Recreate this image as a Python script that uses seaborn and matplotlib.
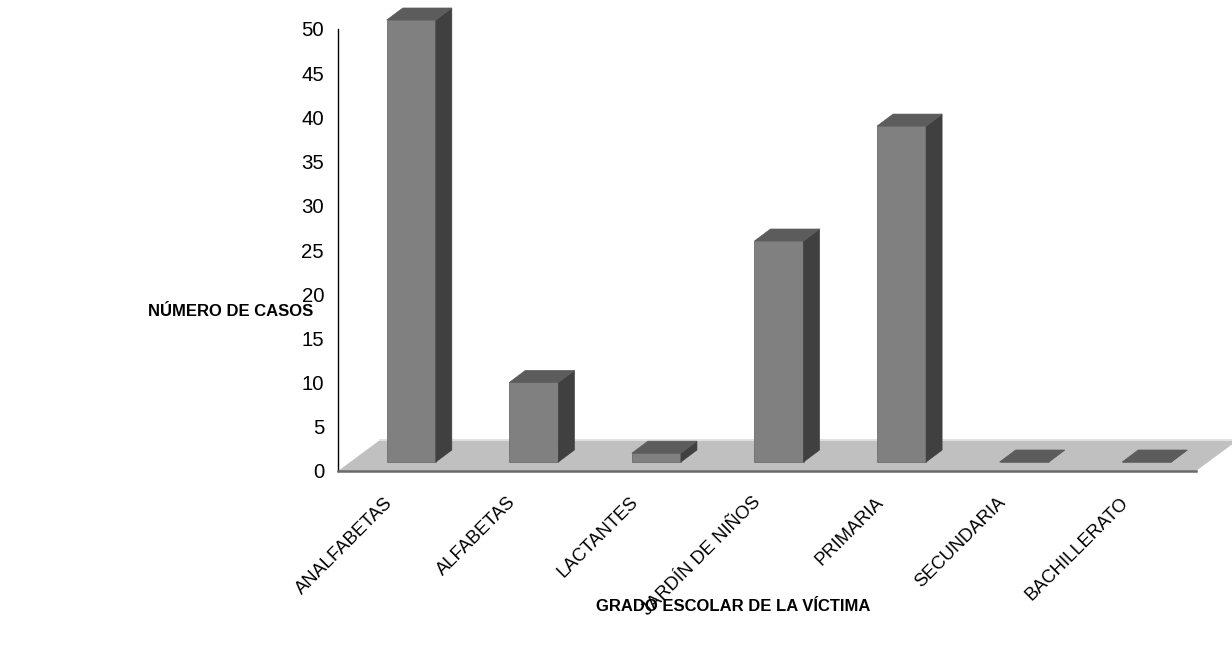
import numpy as np
import pandas as pd
import matplotlib
matplotlib.use("Agg")
import matplotlib.pyplot as plt
from matplotlib.patches import Polygon
from matplotlib.transforms import IdentityTransform, Affine2D, offset_copy
import seaborn as sns

# Datos
grados = ['ANALFABETAS', 'ALFABETAS', 'LACTANTES', 'JARDÍN DE NIÑOS',
          'PRIMARIA', 'SECUNDARIA', 'BACHILLERATO']
casos = [50, 9, 1, 25, 38, 0, 0]
y_ticks = list(range(0, 51, 5))

sns.set_style('white')
plt.rcParams['font.family'] = ['Liberation Sans', 'DejaVu Sans']
plt.rcParams['text.color'] = 'black'
plt.rcParams['axes.labelcolor'] = 'black'
plt.rcParams['xtick.color'] = 'black'
plt.rcParams['ytick.color'] = 'black'

DPI = 100
fig = plt.figure(figsize=(12.32, 6.49), dpi=DPI)
W, H = 1232, 649
# caja de los ejes en pixeles: izq 338, der 1196, arriba 29, abajo 471
ax = fig.add_axes([338 / W, 1 - 471 / H, (1196 - 338) / W, (471 - 29) / H])

df = pd.DataFrame({'grado': grados, 'casos': casos})
sns.barplot(data=df, x='grado', y='casos', color='#808080', saturation=1,
            width=0.4, edgecolor='#6e6e6e', linewidth=0.6, ax=ax, zorder=3)

ax.set_xlim(-0.5, len(grados) - 0.5)
ax.set_ylim(0, 50)

# efecto 3D: profundidad del piso y de las barras (pixeles)
floor_dx, floor_dy = 42, 31
bar_off_x, bar_off_y = 12, 9
bar_dx, bar_dy = 16, 12

shift = offset_copy(ax.transData, fig=fig, x=bar_off_x, y=bar_off_y, units='dots')

# piso
(fx0, fy0) = ax.transData.transform((-0.5, 0))
(fx1, _) = ax.transData.transform((len(grados) - 0.5, 0))
floor = Polygon([(fx0, fy0), (fx1, fy0), (fx1 + floor_dx, fy0 + floor_dy),
                 (fx0 + floor_dx, fy0 + floor_dy)], closed=True,
                transform=IdentityTransform(), facecolor='#c0c0c0',
                edgecolor='none', zorder=1, clip_on=False)
ax.add_patch(floor)
back = plt.Line2D([fx0 + floor_dx, fx1 + floor_dx], [fy0 + floor_dy, fy0 + floor_dy],
                  transform=IdentityTransform(), color='#e0e0e0', lw=1.5,
                  zorder=1.5, clip_on=False)
ax.add_line(back)

for p in list(ax.patches):
    if p is floor:
        continue
    p.set_transform(shift)
    p.set_clip_on(False)
    x0, y0 = p.get_x(), p.get_y()
    x1, y1 = x0 + p.get_width(), y0 + p.get_height()
    (a0, b0) = shift.transform((x0, y0))
    (a1, b1) = shift.transform((x1, y1))
    side = Polygon([(a1, b0), (a1 + bar_dx, b0 + bar_dy), (a1 + bar_dx, b1 + bar_dy), (a1, b1)],
                   closed=True, transform=IdentityTransform(), facecolor='#404040',
                   edgecolor='#404040', lw=0.5, zorder=4, clip_on=False)
    top = Polygon([(a0, b1), (a1, b1), (a1 + bar_dx, b1 + bar_dy), (a0 + bar_dx, b1 + bar_dy)],
                  closed=True, transform=IdentityTransform(), facecolor='#5c5c5c',
                  edgecolor='#5c5c5c', lw=0.5, zorder=4, clip_on=False)
    ax.add_patch(side)
    ax.add_patch(top)

# ejes
for s in ['top', 'right']:
    ax.spines[s].set_visible(False)
ax.spines['left'].set_color('black')
ax.spines['left'].set_linewidth(1.0)
ax.spines['bottom'].set_color('#6a6a6a')
ax.spines['bottom'].set_linewidth(1.8)
ax.spines['bottom'].set_zorder(5)

ax.set_yticks(y_ticks)
ax.tick_params(axis='y', direction='out', length=6.5, width=1, color='black',
               labelsize=14.7, pad=3.5)

ax.set_xticks(np.arange(len(grados) + 1) - 0.5)
ax.set_xticklabels([])
ax.set_xticks(np.arange(len(grados)), minor=True)
ax.set_xticklabels(grados, minor=True, rotation=45, ha='right', va='top',
                   rotation_mode='anchor')
ax.tick_params(axis='x', which='major', direction='out', length=7, width=1, color='#333333')
ax.tick_params(axis='x', which='minor', length=0, labelsize=13.2, pad=16.5)
for lbl in ax.get_xticklabels(minor=True):
    lbl.set_transform(lbl.get_transform() + Affine2D().translate(-15, 0))

ax.set_xlabel('GRADO ESCOLAR DE LA VÍCTIMA', fontsize=12, fontweight='bold')
ax.xaxis.set_label_coords(0.461, -0.306)
ax.xaxis.label.set_va('center')
ax.set_ylabel('NÚMERO DE CASOS', fontsize=12, fontweight='bold', rotation=0,
              ha='right', va='center')
ax.yaxis.set_label_coords(-0.029, 0.36)

fig.savefig('out.png', dpi=DPI)
